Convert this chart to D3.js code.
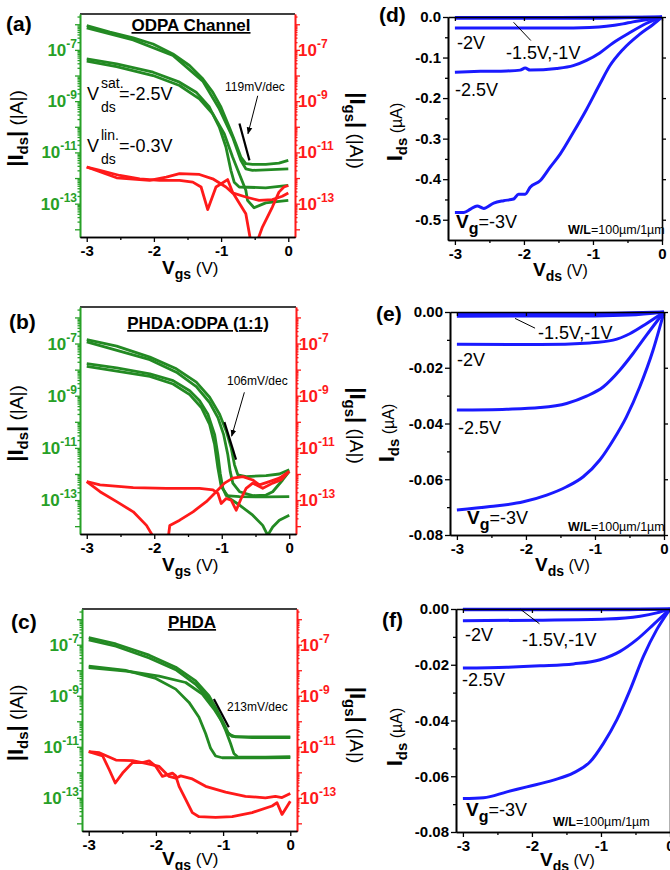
<!DOCTYPE html>
<html>
<head>
<meta charset="utf-8">
<script src="https://cdn.jsdelivr.net/npm/d3@7"></script>
<style>
  body { margin: 0; background: #fff; }
  svg { font-family: "Liberation Sans", Arial, sans-serif; }
  text { white-space: pre; }
</style>
</head>
<body>
<svg id="fig" width="670" height="870"></svg>
<script>
// ---- transfer curves: [Vgs (V), log10 |I| (A)] ----
const odpaSat1 = [[-3,-6.05],[-2.655,-6.31],[-2.309,-6.53],[-2.013,-6.77],[-1.717,-7.16],[-1.471,-7.61],[-1.273,-8.13],[-1.125,-8.65],[-1.002,-9.23],[-0.879,-10.01],[-0.78,-10.66],[-0.706,-11.18],[-0.632,-11.44],[-0.533,-11.47],[-0.336,-11.47],[-0.139,-11.42],[0,-11.31]];
const odpaSat2 = [[-3,-6.14],[-2.309,-6.61],[-1.717,-7.22],[-1.273,-8.22],[-1.027,-9.30],[-0.829,-10.40],[-0.706,-11.31],[-0.632,-11.64],[-0.533,-11.70],[0,-11.64]];
const odpaLin1 = [[-3,-7.35],[-2.556,-7.55],[-2.013,-7.87],[-1.619,-8.26],[-1.372,-8.65],[-1.175,-9.23],[-1.027,-10.01],[-0.928,-10.79],[-0.854,-11.70],[-0.805,-12.16],[-0.73,-12.35],[-0.336,-12.38],[0,-12.29]];
const odpaLin2 = [[-3,-7.44],[-2.556,-7.65],[-2.013,-8.0],[-1.619,-8.39],[-1.323,-8.91],[-1.125,-9.49],[-0.953,-10.27],[-0.829,-11.18],[-0.73,-11.83],[-0.632,-12.48],[-0.607,-12.87],[-0.509,-13.16],[-0.336,-12.97],[0,-12.87]];
const odpaGate1 = [[-3,-11.57],[-2.803,-11.7],[-2.507,-11.9],[-2.211,-12.03],[-1.915,-12.09],[-1.619,-12.09],[-1.421,-12.16],[-1.298,-12.35],[-1.199,-13.23],[-1.076,-12.35],[-0.903,-12.06],[-0.829,-12.55],[-0.632,-13.39],[-0.55,-14.6],[-0.48,-14.6],[-0.385,-13.91],[-0.237,-13.13],[-0.139,-12.55],[-0.065,-12.35],[0,-12.29]];
const odpaGate2 = [[-3,-11.57],[-2.556,-11.99],[-2.063,-12.09],[-1.816,-11.96],[-1.619,-11.83],[-1.322,-11.86],[-1.125,-12.03],[-0.928,-12.35],[-0.829,-12.58],[-0.632,-12.74],[-0.435,-12.87],[-0.237,-12.84],[-0.089,-12.71],[0,-12.58]];

const mixSat1 = [[-3,-6.85],[-2.557,-7.1],[-2.065,-7.52],[-1.672,-7.97],[-1.377,-8.48],[-1.18,-9.06],[-1.032,-9.71],[-0.934,-10.35],[-0.86,-11.0],[-0.811,-11.65],[-0.762,-12.03],[-0.639,-12.1],[-0.344,-12.06],[-0.147,-12.0],[0,-11.84]];
const mixSat2 = [[-3,-6.94],[-2.065,-7.62],[-1.672,-8.1],[-1.377,-8.65],[-1.18,-9.26],[-1.057,-9.84],[-0.973,-10.48],[-0.91,-11.26],[-0.875,-11.9],[-0.836,-12.35],[-0.737,-12.68],[-0.541,-12.83],[-0.344,-12.81],[-0.245,-12.68],[-0.098,-12.23],[0,-11.9]];
const mixLin1 = [[-3,-7.77],[-2.557,-7.93],[-2.065,-8.16],[-1.721,-8.42],[-1.475,-8.81],[-1.328,-9.19],[-1.205,-9.71],[-1.106,-10.48],[-1.057,-11.26],[-1.023,-11.97],[-0.983,-12.55],[-0.934,-12.83],[-0.737,-12.87],[-0.344,-12.88],[0,-12.87]];
const mixLin2 = [[-3,-7.88],[-2.065,-8.26],[-1.721,-8.55],[-1.475,-8.96],[-1.303,-9.45],[-1.18,-10.1],[-1.106,-10.87],[-1.057,-11.77],[-1.008,-12.48],[-0.885,-12.94],[-0.737,-13.19],[-0.541,-13.58],[-0.393,-13.97],[-0.319,-14.35],[-0.245,-14.03],[-0.147,-13.77],[0,-13.58]];
const mixGate1 = [[-3,-12.29],[-2.803,-12.42],[-2.311,-12.52],[-1.819,-12.55],[-1.328,-12.55],[-1.131,-12.61],[-1.057,-12.74],[-1.008,-13.13],[-0.934,-12.94],[-0.86,-13.0],[-0.786,-13.39],[-0.713,-12.94],[-0.639,-12.55],[-0.541,-12.35],[-0.393,-12.55],[-0.245,-12.35],[-0.123,-12.23],[0,-11.9]];
const mixGate2 = [[-3,-12.29],[-2.803,-12.68],[-2.557,-13.06],[-2.311,-13.45],[-2.115,-13.97],[-1.97,-14.6],[-1.8,-14.6],[-1.77,-13.97],[-1.623,-13.77],[-1.426,-13.45],[-1.229,-13.06],[-1.082,-12.68],[-0.959,-12.35],[-0.836,-12.16],[-0.688,-12.1],[-0.541,-12.23],[-0.442,-12.42],[-0.295,-12.29],[-0.147,-12.16],[0,-11.9]];

const phdaSat1 = [[-3,-6.72],[-2.595,-6.97],[-2.1,-7.41],[-1.705,-7.88],[-1.408,-8.42],[-1.211,-9.0],[-1.087,-9.58],[-0.988,-10.1],[-0.914,-10.51],[-0.815,-10.61],[-0.37,-10.61],[0,-10.61]];
const phdaSat2 = [[-3,-6.81],[-2.595,-7.06],[-2.1,-7.52],[-1.705,-7.98],[-1.408,-8.55],[-1.211,-9.13],[-1.062,-9.77],[-0.963,-10.35],[-0.889,-10.87],[-0.84,-11.26],[-0.776,-11.41],[-0.37,-11.41],[0,-11.39]];
const phdaLin1 = [[-3,-7.84],[-2.446,-8.01],[-2.001,-8.32],[-1.705,-8.74],[-1.507,-9.26],[-1.359,-9.84],[-1.26,-10.48],[-1.186,-11.06],[-1.112,-11.36],[-1.013,-11.43],[-0.37,-11.43],[0,-11.42]];
const phdaLin2 = [[-3,-7.9],[-2.446,-8.03],[-1.952,-8.23],[-1.557,-8.48],[-1.309,-8.94],[-1.136,-9.52],[-1.013,-10.03],[-0.939,-10.42],[-0.865,-10.59],[-0.568,-10.64],[0,-10.64]];
const phdaGate1 = [[-3,-11.19],[-2.842,-11.23],[-2.595,-11.52],[-2.348,-11.54],[-2.15,-11.65],[-1.952,-11.77],[-1.804,-12.16],[-1.705,-12.23],[-1.631,-12.14],[-1.458,-12.26],[-1.26,-12.55],[-0.963,-12.78],[-0.667,-12.94],[-0.37,-13.0],[-0.222,-12.94],[-0.123,-12.99],[0,-12.83]];
const phdaGate2 = [[-3,-11.19],[-2.792,-11.36],[-2.694,-11.9],[-2.605,-12.42],[-2.496,-12.03],[-2.348,-11.62],[-2.199,-11.62],[-2.1,-11.55],[-2.001,-11.77],[-1.903,-12.16],[-1.754,-12.03],[-1.705,-12.14],[-1.655,-12.55],[-1.557,-13.06],[-1.458,-13.58],[-1.359,-13.74],[-1.112,-13.77],[-0.865,-13.74],[-0.568,-13.58],[-0.271,-13.32],[-0.197,-13.19],[-0.123,-13.65],[0,-13.13]];

// ---- output curves: [Vds (V), Ids (uA)] ----
const odpaVg1 = [[-3,-0.001],[-1.5,-0.001],[0,0]];
const odpaVg15 = [[-3,-0.003],[-1,-0.003],[-0.5,-0.002],[0,0]];
const odpaVg2 = [[-3,-0.027],[-2,-0.027],[-1.286,-0.027],[-1.046,-0.026],[-0.806,-0.023],[-0.566,-0.017],[-0.422,-0.012],[-0.23,-0.0066],[0,0]];
const odpaVg25 = [[-3,-0.136],[-2.63,-0.134],[-2.246,-0.133],[-2.054,-0.131],[-1.982,-0.126],[-1.91,-0.131],[-1.526,-0.127],[-1.286,-0.12],[-1.094,-0.107],[-0.902,-0.0885],[-0.71,-0.064],[-0.47,-0.039],[-0.23,-0.016],[0,0]];
const odpaVg3 = [[-3,-0.482],[-2.87,-0.482],[-2.774,-0.474],[-2.678,-0.466],[-2.582,-0.472],[-2.438,-0.459],[-2.294,-0.453],[-2.15,-0.449],[-2.078,-0.437],[-1.982,-0.437],[-1.91,-0.42],[-1.766,-0.404],[-1.622,-0.371],[-1.478,-0.339],[-1.286,-0.285],[-1.094,-0.228],[-0.902,-0.166],[-0.758,-0.121],[-0.566,-0.08],[-0.326,-0.043],[-0.134,-0.019],[0,0]];

const mixVg1 = [[-3,-0.0005],[-1,-0.0005],[0,0]];
const mixVg15 = [[-3,-0.0015],[-1,-0.0014],[-0.5,-0.0011],[0,0]];
const mixVg2 = [[-3,-0.0116],[-1.796,-0.0117],[-1.074,-0.0111],[-0.737,-0.0101],[-0.496,-0.0078],[-0.256,-0.0042],[0,0]];
const mixVg25 = [[-3,-0.0352],[-2.278,-0.0349],[-1.796,-0.0343],[-1.411,-0.0328],[-1.122,-0.0302],[-0.882,-0.0269],[-0.641,-0.0209],[-0.448,-0.0149],[-0.256,-0.0084],[0,0]];
const mixVg3 = [[-3,-0.071],[-2.519,-0.0698],[-2.037,-0.0681],[-1.7,-0.0657],[-1.411,-0.0627],[-1.17,-0.0591],[-0.93,-0.0531],[-0.737,-0.046],[-0.544,-0.0376],[-0.352,-0.0269],[-0.159,-0.0137],[0,0]];

const phdaVg1 = [[-3,-0.0001],[0,0]];
const phdaVg15 = [[-3,-0.0003],[-1,-0.0003],[0,0]];
const phdaVg2 = [[-3,-0.0042],[-1.881,-0.004],[-0.916,-0.0036],[-0.434,-0.0026],[-0.192,-0.0014],[0,0]];
const phdaVg25 = [[-3,-0.0212],[-2.363,-0.0209],[-1.881,-0.0204],[-1.398,-0.0197],[-1.012,-0.0182],[-0.723,-0.0152],[-0.482,-0.011],[-0.241,-0.0056],[0,0]];
const phdaVg3 = [[-3,-0.068],[-2.701,-0.0677],[-2.363,-0.0656],[-2.074,-0.0638],[-1.688,-0.0614],[-1.398,-0.0588],[-1.157,-0.0548],[-0.964,-0.0482],[-0.771,-0.0398],[-0.578,-0.029],[-0.385,-0.017],[-0.192,-0.0074],[0,0]];

// ---- ticks ----
const vTicks = [-3, -2, -1, 0];
const vMinor = [-2.5, -1.5, -0.5];
const decadeTicks = [-14, -13, -12, -11, -10, -9, -8, -7, -6];
const decadeLabels = [-13, -11, -9, -7];
const odpaITicks = [0, -0.1, -0.2, -0.3, -0.4, -0.5];
const odpaIMinor = [-0.05, -0.15, -0.25, -0.35, -0.45];
const smallITicks = [0, -0.02, -0.04, -0.06, -0.08];
const smallIMinor = [-0.01, -0.03, -0.05, -0.07];

const GREEN = '#238a23', GREEN_TXT = '#27a027', RED = '#ff1a1a', BLUE = '#1a1aff';
const svg = d3.select('#fig');
const defs = svg.append('defs');
defs.append('marker').attr('id', 'arrow').attr('viewBox', '0 0 10 10')
  .attr('refX', 9).attr('refY', 5).attr('markerWidth', 7).attr('markerHeight', 7)
  .attr('orient', 'auto').append('path').attr('d', 'M0,1 L10,5 L0,9 z').attr('fill', '#000');

// text made of pieces: [string, size, weight, baseline shift]
function rich(x, y, parts, rot, anchor, fill) {
  const t = svg.append('text')
    .attr('transform', `translate(${x},${y}) rotate(${rot || 0})`)
    .attr('text-anchor', anchor || 'start')
    .attr('fill', fill || '#000');
  let cur = 0;
  parts.forEach(([s, size, weight, shift]) => {
    const sh = shift || 0;
    t.append('tspan').attr('dy', sh - cur).attr('font-size', size)
      .attr('font-weight', weight || 'normal').text(s);
    cur = sh;
  });
  return t;
}

function styleAxis(sel, color) {
  sel.select('.domain').attr('stroke', color).attr('stroke-width', 1.6);
  sel.selectAll('.tick line').attr('stroke', color).attr('stroke-width', 1.3);
  sel.selectAll('.tick text').attr('fill', color).attr('font-size', 15).attr('font-weight', 'bold');
}

function logPanel(p) {
  const x = d3.scaleLinear().domain([-3.1, 0.1]).range([p.x0, p.x1]);
  const y = d3.scaleLog().domain([Math.pow(10, -14.3), Math.pow(10, -5.6)]).range([p.y1, p.y0]);
  const clip = 'clip' + p.id;
  defs.append('clipPath').attr('id', clip).append('rect')
    .attr('x', p.x0).attr('y', p.y0).attr('width', p.x1 - p.x0).attr('height', p.y1 - p.y0);
  const line = d3.line().x(d => x(d[0])).y(d => y(Math.pow(10, d[1])));
  const plot = svg.append('g').attr('clip-path', `url(#${clip})`);
  p.drain.forEach(s => plot.append('path').datum(s).attr('d', line)
    .attr('fill', 'none').attr('stroke', GREEN).attr('stroke-width', 2.8).attr('stroke-linejoin', 'round'));
  p.gate.forEach(s => plot.append('path').datum(s).attr('d', line)
    .attr('fill', 'none').attr('stroke', RED).attr('stroke-width', 2.8).attr('stroke-linejoin', 'round'));

  // frame top
  svg.append('line').attr('x1', p.x0).attr('x2', p.x1).attr('y1', p.y0).attr('y2', p.y0)
    .attr('stroke', '#000').attr('stroke-width', 1.6);

  const minor = [];
  decadeTicks.forEach(e => { for (let k = 2; k <= 9; k++) minor.push(k * Math.pow(10, e)); });
  const minorIn = minor.filter(v => v >= y.domain()[0] && v <= y.domain()[1]);
  const majors = decadeTicks.map(e => Math.pow(10, e));

  [['L', p.x0, d3.axisLeft, GREEN_TXT, -1], ['R', p.x1, d3.axisRight, RED, 1]].forEach(([k, ax, mk, col, dir]) => {
    const gm = svg.append('g').attr('transform', `translate(${ax},0)`)
      .call(mk(y).tickValues(minorIn).tickSize(2.5).tickFormat('').tickSizeOuter(0));
    styleAxis(gm, col);
    const gM = svg.append('g').attr('transform', `translate(${ax},0)`)
      .call(mk(y).tickValues(majors).tickSize(5).tickFormat('').tickSizeOuter(0));
    styleAxis(gM, col);
    decadeLabels.forEach(e => {
      const t = svg.append('text')
        .attr('x', ax + dir * 3).attr('y', y(Math.pow(10, e)) + 6)
        .attr('text-anchor', dir < 0 ? 'end' : 'start')
        .attr('fill', col).attr('font-weight', 'bold');
      t.append('tspan').attr('font-size', 17).text('10');
      t.append('tspan').attr('font-size', 12).attr('dy', -8).text(String(e));
    });
  });

  const gx = svg.append('g').attr('transform', `translate(0,${p.y1})`)
    .call(d3.axisBottom(x).tickValues(vTicks).tickSize(5).tickPadding(3).tickSizeOuter(0).tickFormat(d => String(d)));
  styleAxis(gx, '#000');
  const gx2 = svg.append('g').attr('transform', `translate(0,${p.y1})`)
    .call(d3.axisBottom(x).tickValues(vMinor).tickSize(3).tickSizeOuter(0).tickFormat(''));
  styleAxis(gx2, '#000');

  // sub-threshold slope marker
  svg.append('line').attr('x1', x(p.slope[0][0])).attr('y1', y(Math.pow(10, p.slope[0][1])))
    .attr('x2', x(p.slope[1][0])).attr('y2', y(Math.pow(10, p.slope[1][1])))
    .attr('stroke', '#000').attr('stroke-width', 2.2);
  if (p.arrow) {
    svg.append('line').attr('x1', x(p.arrow[0][0])).attr('y1', y(Math.pow(10, p.arrow[0][1])))
      .attr('x2', x(p.arrow[1][0])).attr('y2', y(Math.pow(10, p.arrow[1][1])))
      .attr('stroke', '#000').attr('stroke-width', 1).attr('marker-end', 'url(#arrow)');
  }
  svg.append('text').attr('x', p.slopeText[0]).attr('y', p.slopeText[1])
    .attr('font-size', 12).text(p.slopeLabel);

  // title
  svg.append('text').attr('x', p.title[0]).attr('y', p.title[1]).attr('text-anchor', 'middle')
    .attr('font-size', 17).attr('font-weight', 'bold').attr('text-decoration', 'underline').text(p.titleText);
  svg.append('text').attr('x', p.tag[0]).attr('y', p.tag[1]).attr('font-size', 21).attr('font-weight', 'bold').text(p.tagText);

  rich(23, (p.y0 + p.y1) / 2 + 3, [['|I', 22, 'bold'], ['ds', 15, 'bold', 5], ['|', 22, 'bold'], [' (|A|)', 19, 'normal']], -90, 'middle');
  rich(350, (p.y0 + p.y1) / 2 + 5, [['|I', 22, 'bold'], ['gs', 15, 'bold', 5], ['|', 22, 'bold'], [' (|A|)', 19, 'normal']], 90, 'middle');
  rich(162, Math.min(p.y1 + 37, 865), [['V', 19, 'bold'], ['gs', 14, 'bold', 5], [' (V)', 17, 'normal']]);
}

function linPanel(p) {
  const x = d3.scaleLinear().domain([-3.1, 0]).range([p.x0, p.x1]);
  const y = d3.scaleLinear().domain([p.ymin, 0]).range([p.y1, p.y0]);
  const line = d3.line().curve(d3.curveMonotoneX).x(d => x(d[0])).y(d => y(d[1]));
  [p.vg1, p.vg15, p.vg2, p.vg25, p.vg3].forEach(s => svg.append('path').datum(s).attr('d', line)
    .attr('fill', 'none').attr('stroke', BLUE).attr('stroke-width', 3).attr('stroke-linejoin', 'round'));

  const gx = svg.append('g').attr('transform', `translate(0,${p.y1})`)
    .call(d3.axisBottom(x).tickValues(vTicks).tickSize(5).tickPadding(3).tickSizeOuter(0).tickFormat(d => String(d)));
  styleAxis(gx, '#000');
  styleAxis(svg.append('g').attr('transform', `translate(0,${p.y1})`)
    .call(d3.axisBottom(x).tickValues(vMinor).tickSize(3).tickSizeOuter(0).tickFormat('')), '#000');
  const gy = svg.append('g').attr('transform', `translate(${p.x0},0)`)
    .call(d3.axisLeft(y).tickValues(p.ticks).tickSize(5).tickPadding(2).tickSizeOuter(0).tickFormat(d => d.toFixed(p.dec)));
  styleAxis(gy, '#000');
  styleAxis(svg.append('g').attr('transform', `translate(${p.x0},0)`)
    .call(d3.axisLeft(y).tickValues(p.minor).tickSize(3).tickSizeOuter(0).tickFormat('')), '#000');
  // mirrored frame
  styleAxis(svg.append('g').attr('transform', `translate(${p.x1},0)`)
    .call(d3.axisLeft(y).tickValues(p.ticks).tickSize(-4).tickSizeOuter(0).tickFormat('')), '#000');
  styleAxis(svg.append('g').attr('transform', `translate(0,${p.y0})`)
    .call(d3.axisBottom(x).tickValues(vTicks).tickSize(4).tickSizeOuter(0).tickFormat('')), '#000');

  svg.append('line').attr('x1', x(p.leader[0][0])).attr('y1', y(p.leader[0][1]))
    .attr('x2', x(p.leader[1][0])).attr('y2', y(p.leader[1][1])).attr('stroke', '#000').attr('stroke-width', 1);

  svg.append('text').attr('x', p.tag[0]).attr('y', p.tag[1]).attr('font-size', 21).attr('font-weight', 'bold').text(p.tagText);
  p.notes.forEach(([s, tx, ty]) => svg.append('text').attr('x', tx).attr('y', ty).attr('font-size', 18).text(s));
  rich(p.vg[0], p.vg[1], [['V', 19, 'bold'], ['g', 16, 'bold', 6], ['=-3V', 18, 'normal', 0]]);
  rich(p.wl[0], p.wl[1], [['W/L', 12.5, 'bold'], ['=100\u00b5m/1\u00b5m', 12.5, 'normal']]);

  rich(p.ylab[0], p.ylab[1], [['I', 22, 'bold'], ['ds', 15, 'bold', 5], [' (\u00b5A)', 16, 'normal', 0]], -90, 'middle');
  rich(p.xlab[0], p.xlab[1], [['V', 19, 'bold'], ['ds', 14, 'bold', 5], [' (V)', 16, 'normal', 0]]);
}

logPanel({ id: 'a', x0: 80, x1: 295, y0: 14, y1: 237,
  drain: [odpaSat1, odpaSat2, odpaLin1, odpaLin2], gate: [odpaGate1, odpaGate2],
  slope: [[-0.727, -9.87], [-0.578, -11.31]], arrow: [[-0.455, -8.79], [-0.6, -10.27]],
  slopeText: [225, 91], slopeLabel: '119mV/dec',
  title: [191, 31], titleText: 'ODPA Channel', tag: [6, 31], tagText: '(a)' });
rich(87, 100, [['V', 18, 'normal']]);
rich(101, 88, [['sat.', 14, 'normal']]);
rich(101, 112, [['ds', 14, 'normal']]);
rich(119, 100, [['=-2.5V', 18, 'normal']]);
rich(87, 152, [['V', 18, 'normal']]);
rich(101, 140, [['lin.', 14, 'normal']]);
rich(101, 164, [['ds', 14, 'normal']]);
rich(119, 152, [['=-0.3V', 18, 'normal']]);

logPanel({ id: 'b', x0: 80, x1: 296, y0: 307, y1: 534,
  drain: [mixSat1, mixSat2, mixLin1, mixLin2], gate: [mixGate1, mixGate2],
  slope: [[-0.961, -10.01], [-0.788, -11.45]], arrow: [[-0.665, -8.87], [-0.853, -10.55]],
  slopeText: [227, 385], slopeLabel: '106mV/dec',
  title: [198, 329], titleText: 'PHDA:ODPA (1:1)', tag: [9, 329], tagText: '(b)' });

logPanel({ id: 'c', x0: 82, x1: 297, y0: 609, y1: 831,
  drain: [phdaSat1, phdaSat2, phdaLin1, phdaLin2], gate: [phdaGate1, phdaGate2],
  slope: [[-1.137, -9.13], [-0.915, -10.23]], arrow: null,
  slopeText: [227, 711], slopeLabel: '213mV/dec',
  title: [192, 628], titleText: 'PHDA', tag: [11, 629], tagText: '(c)' });

linPanel({ x0: 448, x1: 662, y0: 17, y1: 240, ymin: -0.55, dec: 1,
  ticks: odpaITicks, minor: odpaIMinor,
  vg1: odpaVg1, vg15: odpaVg15, vg2: odpaVg2, vg25: odpaVg25, vg3: odpaVg3,
  leader: [[-2.15, -0.013], [-1.9, -0.058]],
  tag: [379, 22], tagText: '(d)',
  notes: [['-2V', 457, 49], ['-1.5V,-1V', 506, 59], ['-2.5V', 455, 96]],
  vg: [456, 228], wl: [568, 234], ylab: [402, 132], xlab: [533, 276] });

linPanel({ x0: 450, x1: 664, y0: 312, y1: 535, ymin: -0.08, dec: 2,
  ticks: smallITicks, minor: smallIMinor,
  vg1: mixVg1, vg15: mixVg15, vg2: mixVg2, vg25: mixVg25, vg3: mixVg3,
  leader: [[-2.158, -0.0023], [-1.868, -0.0058]],
  tag: [376, 321], tagText: '(e)',
  notes: [['-1.5V,-1V', 538, 339], ['-2V', 457, 366], ['-2.5V', 458, 434]],
  vg: [467, 524], wl: [568, 531], ylab: [394, 433], xlab: [535, 571] });

linPanel({ x0: 456, x1: 670, y0: 609, y1: 832, ymin: -0.08, dec: 2,
  ticks: smallITicks, minor: smallIMinor,
  vg1: phdaVg1, vg15: phdaVg15, vg2: phdaVg2, vg25: phdaVg25, vg3: phdaVg3,
  leader: [[-2.171, 0], [-1.891, -0.0053]],
  tag: [382, 627], tagText: '(f)',
  notes: [['-2V', 465, 641], ['-1.5V,-1V', 522, 646], ['-2.5V', 462, 686]],
  vg: [466, 816], wl: [553, 826], ylab: [402, 737], xlab: [540, 866] });
</script>
</body>
</html>
